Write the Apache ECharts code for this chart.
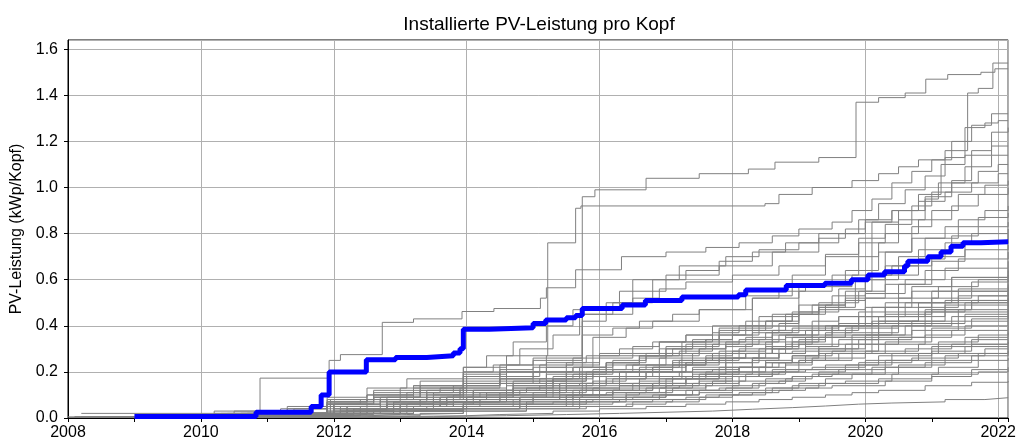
<!DOCTYPE html>
<html>
<head>
<meta charset="utf-8">
<script src="https://cdn.jsdelivr.net/npm/echarts@6/dist/echarts.min.js"></script>
<style>
  html, body { margin: 0; padding: 0; background: #fff; }
  #chart { width: 1019px; height: 444px; }
</style>
</head>
<body>
<div id="chart"></div>
<script>
// x ticks (years) and y ticks
const yearTicks = [2008, 2010, 2012, 2014, 2016, 2018, 2020, 2022]
const valueTicks = [0.0, 0.2, 0.4, 0.6, 0.8, 1.0, 1.2, 1.4, 1.6]

// highlighted line [year, kWp per head]
const blueLine = [
  [2009.0,0.007],[2010.83,0.025],[2011.66,0.05],[2011.81,0.1],[2011.93,0.2],[2012.49,0.253],
  [2012.93,0.262],[2013.4,0.27],[2013.8,0.282],[2013.9,0.3],[2013.95,0.385],[2014.34,0.392],
  [2015.0,0.41],[2015.19,0.425],[2015.5,0.435],[2015.64,0.445],[2015.74,0.475],[2016.34,0.49],
  [2016.69,0.51],[2017.24,0.525],[2018.09,0.535],[2018.2,0.555],[2018.81,0.575],[2019.39,0.585],
  [2019.79,0.6],[2020.04,0.62],[2020.29,0.635],[2020.59,0.66],[2020.64,0.68],[2020.94,0.7],
  [2021.14,0.72],[2021.29,0.745],[2021.47,0.76],[2021.74,0.765],[2022.15,0.765]
]

// other municipalities, upper group
const highLines = [
  [[2008.6,0.004],[2010.2,0.015],[2011.9,0.04],[2013.95,0.07],[2015.0,0.09],[2015.74,0.96],[2015.93,0.99],[2016.7,1.04],[2017.5,1.06],[2018.24,1.08],[2018.64,1.11],[2019.3,1.13],[2019.86,1.37],[2020.2,1.39],[2020.6,1.41],[2020.91,1.47],[2021.24,1.49],[2021.74,1.5],[2021.95,1.515],[2022.15,1.515]],
  [[2008.3,0.003],[2010.5,0.02],[2011.95,0.07],[2013.0,0.13],[2013.95,0.22],[2014.6,0.27],[2015.22,0.76],[2015.64,0.91],[2015.72,0.92],[2018.49,0.93],[2018.7,0.97],[2019.2,1.0],[2019.8,1.03],[2020.2,1.06],[2020.5,1.09],[2020.8,1.12],[2021.2,1.16],[2021.54,1.41],[2021.7,1.43],[2021.92,1.54],[2022.15,1.54]],
  [[2008.0,0.005],[2009.3,0.015],[2010.2,0.03],[2010.89,0.173],[2011.93,0.25],[2012.1,0.275],[2012.73,0.415],[2013.2,0.43],[2013.93,0.462],[2014.41,0.475],[2015.11,0.52],[2015.2,0.565],[2015.64,0.643],[2016.33,0.7],[2017.0,0.72],[2017.6,0.74],[2018.1,0.76],[2018.6,0.79],[2019.0,0.82],[2019.5,0.85],[2019.8,0.9],[2020.1,0.95],[2020.4,1.02],[2020.7,1.07],[2021.0,1.12],[2021.3,1.2],[2021.6,1.27],[2021.9,1.32],[2022.15,1.32]],
  [[2008.8,0.003],[2010.4,0.01],[2011.0,0.02],[2011.9,0.08],[2012.6,0.11],[2013.3,0.14],[2013.95,0.2],[2014.4,0.23],[2014.8,0.3],[2015.3,0.36],[2015.7,0.45],[2016.2,0.5],[2016.8,0.6],[2017.3,0.64],[2017.8,0.68],[2018.3,0.72],[2018.8,0.76],[2019.3,0.8],[2019.9,0.86],[2020.2,0.93],[2020.6,0.99],[2020.9,1.05],[2021.2,1.13],[2021.5,1.26],[2021.8,1.28],[2022.0,1.29],[2022.15,1.29]],
  [[2009.0,0.002],[2010.6,0.01],[2011.2,0.02],[2012.0,0.06],[2012.7,0.08],[2013.4,0.11],[2013.8,0.14],[2014.5,0.17],[2015.2,0.22],[2015.9,0.35],[2016.4,0.39],[2016.8,0.42],[2017.5,0.47],[2018.2,0.53],[2018.9,0.62],[2019.4,0.7],[2019.9,0.78],[2020.3,0.84],[2020.7,0.92],[2021.0,0.98],[2021.3,1.03],[2021.6,1.16],[2021.9,1.24],[2022.15,1.26]],
  [[2008.5,0.004],[2010.1,0.01],[2010.8,0.02],[2011.9,0.06],[2012.4,0.08],[2013.1,0.11],[2013.6,0.13],[2014.0,0.18],[2014.5,0.21],[2015.0,0.25],[2015.74,0.42],[2016.1,0.5],[2016.5,0.6],[2017.2,0.66],[2017.9,0.7],[2018.4,0.73],[2019.0,0.76],[2019.6,0.8],[2020.0,0.85],[2020.4,0.9],[2020.8,0.97],[2021.14,1.1],[2021.5,1.14],[2021.9,1.18],[2022.15,1.18]],
  [[2009.5,0.003],[2010.8,0.01],[2011.5,0.02],[2012.2,0.05],[2012.9,0.07],[2013.5,0.08],[2014.1,0.1],[2014.7,0.13],[2015.3,0.17],[2015.8,0.2],[2016.2,0.24],[2016.6,0.27],[2017.0,0.31],[2017.4,0.34],[2017.8,0.38],[2018.4,0.44],[2019.0,0.55],[2019.5,0.62],[2019.9,0.7],[2020.2,0.76],[2020.5,0.86],[2020.9,0.95],[2021.1,1.02],[2021.5,1.09],[2021.9,1.14],[2022.15,1.14]],
  [[2008.9,0.002],[2010.5,0.01],[2011.4,0.015],[2012.1,0.04],[2012.8,0.06],[2013.3,0.08],[2013.9,0.12],[2014.6,0.15],[2015.5,0.2],[2016.1,0.23],[2016.6,0.27],[2017.1,0.3],[2017.6,0.34],[2018.0,0.38],[2018.5,0.42],[2018.9,0.46],[2019.3,0.5],[2019.9,0.55],[2020.1,0.85],[2020.5,0.9],[2020.9,0.96],[2021.3,1.02],[2021.7,1.07],[2022.0,1.1],[2022.15,1.1]],
  [[2008.2,0.02],[2010.5,0.03],[2011.3,0.05],[2011.9,0.09],[2012.5,0.13],[2013.1,0.17],[2013.95,0.22],[2014.3,0.27],[2014.7,0.33],[2015.2,0.4],[2015.6,0.47],[2016.3,0.55],[2017.0,0.62],[2017.8,0.66],[2018.6,0.72],[2019.3,0.78],[2019.7,0.82],[2020.0,0.86],[2020.4,0.9],[2020.8,0.94],[2021.2,0.98],[2021.6,1.02],[2022.0,1.06],[2022.15,1.06]],
  [[2009.2,0.003],[2010.7,0.01],[2011.6,0.02],[2012.4,0.05],[2013.0,0.06],[2013.7,0.09],[2014.3,0.11],[2014.9,0.13],[2015.4,0.15],[2015.9,0.18],[2016.4,0.2],[2016.9,0.23],[2017.4,0.26],[2017.8,0.29],[2018.2,0.32],[2018.6,0.38],[2019.0,0.46],[2019.6,0.56],[2020.0,0.62],[2020.3,0.72],[2020.7,0.83],[2021.0,0.9],[2021.4,0.97],[2021.8,1.01],[2022.15,1.03]],
  [[2008.7,0.003],[2010.2,0.01],[2010.9,0.02],[2011.9,0.07],[2012.5,0.1],[2013.2,0.14],[2013.95,0.19],[2014.6,0.23],[2015.2,0.27],[2015.74,0.45],[2016.5,0.52],[2016.9,0.56],[2017.3,0.59],[2018.0,0.62],[2018.7,0.66],[2019.4,0.71],[2019.9,0.76],[2020.3,0.8],[2020.8,0.86],[2021.3,0.92],[2021.7,0.97],[2022.15,1.0]],
  [[2009.4,0.002],[2010.9,0.01],[2011.7,0.02],[2012.5,0.05],[2013.3,0.08],[2013.95,0.12],[2014.7,0.16],[2015.5,0.2],[2016.1,0.24],[2016.7,0.28],[2017.3,0.32],[2017.8,0.36],[2018.3,0.4],[2018.8,0.45],[2019.2,0.49],[2019.5,0.53],[2020.0,0.6],[2020.5,0.7],[2020.9,0.78],[2021.4,0.86],[2021.8,0.9],[2022.15,0.92]],
  [[2008.4,0.004],[2009.9,0.01],[2010.6,0.02],[2011.9,0.06],[2012.7,0.09],[2013.4,0.12],[2013.95,0.15],[2014.5,0.17],[2015.0,0.2],[2015.5,0.23],[2016.0,0.27],[2016.9,0.33],[2017.3,0.36],[2017.7,0.4],[2018.3,0.52],[2019.0,0.58],[2019.7,0.64],[2020.2,0.72],[2020.7,0.78],[2021.2,0.83],[2021.7,0.87],[2022.15,0.89]],
  [[2009.8,0.002],[2011.1,0.01],[2011.9,0.03],[2012.8,0.05],[2013.6,0.07],[2014.2,0.08],[2015.0,0.11],[2015.5,0.14],[2016.1,0.17],[2016.7,0.2],[2017.3,0.24],[2017.9,0.28],[2018.6,0.36],[2019.3,0.48],[2019.85,0.6],[2020.3,0.66],[2020.8,0.73],[2021.3,0.79],[2021.7,0.83],[2022.15,0.85]],
  [[2008.6,0.003],[2010.1,0.01],[2011.0,0.02],[2012.0,0.06],[2012.6,0.09],[2013.3,0.12],[2013.95,0.16],[2014.6,0.2],[2015.2,0.24],[2015.8,0.27],[2016.3,0.3],[2016.8,0.33],[2017.3,0.36],[2017.8,0.39],[2018.2,0.42],[2018.6,0.45],[2019.0,0.49],[2019.7,0.55],[2020.3,0.62],[2020.8,0.69],[2021.2,0.76],[2021.6,0.8],[2022.15,0.82]],
  [[2010.0,0.002],[2011.2,0.01],[2012.0,0.03],[2012.9,0.05],[2013.7,0.07],[2014.5,0.09],[2015.2,0.1],[2015.7,0.12],[2016.3,0.15],[2016.9,0.18],[2017.4,0.21],[2017.9,0.24],[2018.4,0.28],[2018.8,0.32],[2019.2,0.36],[2019.5,0.4],[2020.0,0.48],[2020.5,0.58],[2021.0,0.68],[2021.5,0.76],[2022.15,0.8]]
]

// middle group
const midLines = [
  [[2008.9,0.003],[2010.4,0.01],[2011.2,0.02],[2011.95,0.08],[2012.6,0.12],[2013.3,0.16],[2013.95,0.2],[2014.5,0.23],[2015.0,0.26],[2015.74,0.36],[2016.2,0.39],[2016.6,0.42],[2017.1,0.45],[2017.5,0.47],[2018.3,0.52],[2018.7,0.55],[2019.1,0.57],[2019.8,0.62],[2020.4,0.66],[2021.0,0.7],[2021.5,0.73],[2022.15,0.75]],
  [[2009.1,0.002],[2010.6,0.01],[2011.5,0.02],[2012.2,0.05],[2012.9,0.07],[2013.6,0.09],[2014.1,0.11],[2014.7,0.14],[2015.3,0.17],[2015.9,0.2],[2016.5,0.23],[2017.0,0.27],[2017.5,0.3],[2017.9,0.33],[2018.3,0.37],[2018.7,0.41],[2019.0,0.45],[2019.4,0.49],[2019.7,0.52],[2020.3,0.58],[2020.9,0.64],[2021.4,0.69],[2022.15,0.72]],
  [[2008.3,0.004],[2009.9,0.01],[2010.7,0.02],[2011.9,0.05],[2012.5,0.08],[2013.2,0.1],[2013.9,0.13],[2014.6,0.16],[2015.2,0.19],[2015.7,0.22],[2016.1,0.24],[2016.6,0.27],[2017.0,0.3],[2017.4,0.33],[2017.8,0.36],[2018.2,0.39],[2018.6,0.42],[2019.0,0.45],[2019.3,0.48],[2019.7,0.51],[2020.0,0.54],[2020.6,0.6],[2021.2,0.65],[2022.15,0.68]],
  [[2009.6,0.002],[2010.9,0.01],[2011.8,0.02],[2012.7,0.04],[2013.95,0.06],[2014.8,0.08],[2015.6,0.1],[2016.2,0.12],[2016.8,0.15],[2017.3,0.18],[2017.8,0.22],[2018.3,0.26],[2018.7,0.3],[2019.1,0.35],[2019.5,0.4],[2020.1,0.48],[2020.7,0.55],[2021.3,0.61],[2022.15,0.65]],
  [[2008.1,0.005],[2009.6,0.01],[2010.3,0.02],[2011.3,0.04],[2011.9,0.07],[2012.6,0.1],[2013.2,0.13],[2013.95,0.17],[2014.5,0.2],[2015.1,0.23],[2015.6,0.26],[2016.0,0.28],[2016.5,0.31],[2016.9,0.33],[2017.7,0.37],[2018.1,0.4],[2018.5,0.42],[2018.9,0.45],[2019.3,0.47],[2020.0,0.52],[2020.7,0.57],[2021.3,0.61],[2022.15,0.64]],
  [[2009.3,0.002],[2010.8,0.01],[2011.6,0.015],[2012.6,0.04],[2013.5,0.07],[2014.0,0.09],[2014.7,0.12],[2015.4,0.15],[2016.0,0.18],[2016.6,0.21],[2017.1,0.24],[2017.6,0.26],[2018.4,0.3],[2018.8,0.35],[2019.2,0.4],[2019.9,0.46],[2020.5,0.52],[2021.1,0.57],[2021.7,0.6],[2022.15,0.62]],
  [[2008.8,0.003],[2010.3,0.01],[2011.1,0.02],[2011.95,0.06],[2012.8,0.09],[2013.5,0.11],[2014.0,0.14],[2014.5,0.17],[2015.0,0.2],[2015.6,0.22],[2016.2,0.25],[2016.7,0.27],[2017.2,0.29],[2017.7,0.32],[2018.1,0.34],[2018.5,0.37],[2018.9,0.39],[2019.6,0.44],[2020.3,0.5],[2021.0,0.55],[2021.6,0.59],[2022.15,0.61]],
  [[2010.2,0.002],[2011.3,0.01],[2012.1,0.02],[2013.0,0.035],[2013.95,0.05],[2014.9,0.07],[2015.7,0.09],[2016.4,0.11],[2017.0,0.14],[2017.5,0.17],[2018.0,0.2],[2018.5,0.24],[2018.9,0.27],[2019.3,0.31],[2019.6,0.34],[2020.2,0.42],[2020.8,0.5],[2021.4,0.56],[2022.15,0.6]],
  [[2008.5,0.004],[2010.0,0.01],[2010.9,0.02],[2012.0,0.05],[2012.8,0.07],[2013.5,0.09],[2014.1,0.12],[2014.7,0.15],[2015.3,0.18],[2015.9,0.21],[2016.4,0.23],[2016.9,0.26],[2017.4,0.28],[2017.9,0.31],[2018.3,0.33],[2018.7,0.36],[2019.1,0.38],[2019.9,0.44],[2020.6,0.5],[2021.3,0.55],[2022.15,0.58]],
  [[2009.0,0.003],[2010.6,0.01],[2011.4,0.02],[2012.3,0.04],[2013.1,0.06],[2013.8,0.1],[2014.6,0.12],[2015.5,0.15],[2016.1,0.18],[2016.7,0.2],[2017.1,0.23],[2017.6,0.25],[2018.1,0.28],[2018.5,0.3],[2018.9,0.33],[2019.4,0.36],[2020.1,0.42],[2020.8,0.48],[2021.4,0.53],[2022.15,0.57]],
  [[2008.7,0.003],[2010.2,0.01],[2011.3,0.015],[2012.2,0.04],[2013.0,0.06],[2013.7,0.09],[2014.5,0.11],[2015.4,0.13],[2016.0,0.15],[2016.6,0.17],[2017.24,0.33],[2017.6,0.34],[2018.0,0.36],[2018.4,0.38],[2018.8,0.4],[2019.2,0.42],[2019.6,0.44],[2020.3,0.48],[2021.0,0.52],[2021.6,0.55],[2022.15,0.56]],
  [[2009.7,0.002],[2011.0,0.01],[2011.9,0.03],[2012.7,0.05],[2013.5,0.07],[2014.0,0.08],[2014.6,0.1],[2015.2,0.13],[2015.8,0.15],[2016.3,0.18],[2016.8,0.2],[2017.3,0.23],[2017.8,0.26],[2018.2,0.28],[2018.6,0.31],[2019.0,0.34],[2019.4,0.37],[2019.8,0.4],[2020.5,0.46],[2021.2,0.51],[2022.15,0.55]],
  [[2008.4,0.004],[2009.9,0.01],[2010.8,0.02],[2011.9,0.06],[2012.6,0.09],[2013.3,0.12],[2013.95,0.15],[2014.5,0.18],[2015.1,0.2],[2015.6,0.22],[2016.1,0.24],[2016.6,0.26],[2017.0,0.28],[2017.5,0.3],[2017.9,0.32],[2018.4,0.34],[2018.8,0.36],[2019.2,0.38],[2019.6,0.41],[2020.3,0.45],[2021.0,0.5],[2021.7,0.53],[2022.15,0.54]],
  [[2010.5,0.002],[2011.6,0.01],[2012.3,0.02],[2013.2,0.03],[2013.95,0.04],[2014.9,0.06],[2015.8,0.08],[2016.4,0.1],[2017.0,0.12],[2017.6,0.15],[2018.1,0.18],[2018.6,0.21],[2019.0,0.25],[2019.4,0.28],[2019.8,0.32],[2020.1,0.36],[2020.4,0.4],[2021.0,0.47],[2021.6,0.51],[2022.15,0.53]],
  [[2008.9,0.003],[2010.4,0.01],[2011.2,0.02],[2012.1,0.05],[2012.9,0.07],[2013.6,0.09],[2014.2,0.11],[2014.7,0.13],[2015.2,0.16],[2015.8,0.18],[2016.3,0.2],[2016.8,0.22],[2017.2,0.25],[2017.7,0.28],[2018.1,0.3],[2018.5,0.33],[2018.9,0.35],[2019.7,0.39],[2020.5,0.44],[2021.2,0.49],[2022.15,0.52]],
  [[2009.2,0.003],[2010.9,0.01],[2011.7,0.02],[2012.4,0.04],[2013.2,0.05],[2013.95,0.07],[2014.8,0.09],[2015.6,0.12],[2016.3,0.14],[2016.9,0.17],[2017.4,0.19],[2017.9,0.22],[2018.3,0.25],[2018.7,0.28],[2019.1,0.31],[2019.5,0.35],[2020.2,0.41],[2020.9,0.46],[2021.5,0.5],[2022.15,0.52]],
  [[2008.2,0.005],[2009.7,0.01],[2010.4,0.02],[2011.4,0.04],[2011.9,0.07],[2012.5,0.1],[2013.2,0.14],[2013.95,0.18],[2014.5,0.2],[2015.0,0.22],[2015.5,0.24],[2016.0,0.26],[2016.5,0.28],[2016.9,0.3],[2017.4,0.31],[2017.8,0.33],[2018.2,0.35],[2018.6,0.37],[2019.0,0.38],[2019.4,0.4],[2020.2,0.44],[2020.9,0.47],[2021.6,0.5],[2022.15,0.51]],
  [[2009.9,0.002],[2011.1,0.01],[2012.0,0.02],[2012.9,0.04],[2013.95,0.06],[2014.7,0.08],[2015.4,0.1],[2016.0,0.12],[2016.6,0.14],[2017.1,0.17],[2017.6,0.19],[2018.1,0.22],[2018.5,0.25],[2018.9,0.27],[2019.3,0.3],[2020.0,0.36],[2020.7,0.42],[2021.4,0.47],[2022.15,0.5]],
  [[2008.6,0.003],[2010.1,0.01],[2011.0,0.02],[2012.0,0.05],[2012.8,0.08],[2013.5,0.1],[2013.95,0.13],[2014.5,0.15],[2015.1,0.17],[2015.7,0.19],[2016.2,0.21],[2016.7,0.23],[2017.1,0.25],[2017.6,0.27],[2018.0,0.29],[2018.5,0.31],[2018.9,0.33],[2019.3,0.35],[2019.7,0.37],[2020.5,0.42],[2021.2,0.46],[2022.15,0.49]],
  [[2009.5,0.002],[2010.9,0.01],[2011.8,0.02],[2012.6,0.03],[2013.4,0.05],[2014.2,0.06],[2015.0,0.08],[2015.5,0.1],[2016.2,0.12],[2016.8,0.14],[2017.3,0.17],[2017.8,0.19],[2018.3,0.22],[2018.7,0.24],[2019.1,0.27],[2019.5,0.29],[2020.2,0.35],[2020.9,0.41],[2021.5,0.45],[2022.15,0.47]]
]

// lower group
const lowLines = [
  [[2008.3,0.004],[2009.8,0.01],[2010.6,0.02],[2011.9,0.05],[2012.7,0.08],[2013.4,0.1],[2014.1,0.12],[2014.6,0.14],[2015.2,0.16],[2015.8,0.18],[2016.3,0.2],[2016.8,0.22],[2017.3,0.24],[2017.8,0.26],[2018.2,0.28],[2018.6,0.3],[2019.0,0.32],[2019.8,0.36],[2020.6,0.4],[2021.3,0.44],[2022.15,0.46]],
  [[2010.1,0.002],[2011.3,0.01],[2012.2,0.02],[2013.1,0.035],[2013.95,0.05],[2014.8,0.07],[2015.6,0.09],[2016.2,0.11],[2016.9,0.13],[2017.4,0.15],[2017.9,0.18],[2018.4,0.2],[2018.8,0.23],[2019.2,0.25],[2019.6,0.28],[2020.3,0.33],[2021.0,0.39],[2021.6,0.43],[2022.15,0.45]],
  [[2008.8,0.003],[2010.3,0.01],[2011.1,0.02],[2012.1,0.04],[2012.9,0.06],[2013.7,0.08],[2014.3,0.1],[2014.8,0.12],[2015.3,0.14],[2015.9,0.16],[2016.4,0.18],[2016.9,0.2],[2017.4,0.22],[2017.9,0.24],[2018.3,0.26],[2018.7,0.28],[2019.1,0.3],[2019.9,0.34],[2020.7,0.38],[2021.4,0.42],[2022.15,0.44]],
  [[2009.3,0.003],[2010.7,0.01],[2011.5,0.015],[2012.3,0.04],[2013.0,0.05],[2013.8,0.07],[2014.5,0.09],[2015.4,0.12],[2016.0,0.14],[2016.6,0.16],[2017.1,0.18],[2017.6,0.2],[2018.1,0.22],[2018.5,0.24],[2018.9,0.26],[2019.3,0.28],[2020.1,0.32],[2020.9,0.36],[2021.5,0.4],[2022.15,0.42]],
  [[2008.1,0.005],[2009.5,0.01],[2010.2,0.02],[2011.2,0.04],[2011.9,0.06],[2012.6,0.09],[2013.3,0.11],[2013.95,0.14],[2014.5,0.15],[2015.0,0.17],[2015.6,0.19],[2016.1,0.2],[2016.6,0.22],[2017.1,0.23],[2017.6,0.25],[2018.0,0.26],[2018.5,0.28],[2018.9,0.29],[2019.7,0.32],[2020.5,0.35],[2021.3,0.38],[2022.15,0.4]],
  [[2010.3,0.002],[2011.5,0.01],[2012.4,0.02],[2013.2,0.03],[2013.95,0.04],[2014.9,0.05],[2015.7,0.07],[2016.4,0.09],[2017.0,0.1],[2017.5,0.12],[2018.0,0.14],[2018.5,0.16],[2018.9,0.18],[2019.3,0.2],[2019.7,0.23],[2020.4,0.28],[2021.1,0.33],[2021.7,0.36],[2022.15,0.38]],
  [[2008.7,0.003],[2010.2,0.01],[2011.0,0.02],[2012.0,0.04],[2012.8,0.06],[2013.5,0.07],[2014.1,0.09],[2014.7,0.1],[2015.3,0.12],[2015.9,0.13],[2016.5,0.15],[2017.0,0.17],[2017.5,0.19],[2017.9,0.2],[2018.4,0.22],[2018.8,0.24],[2019.2,0.26],[2020.0,0.29],[2020.8,0.32],[2021.5,0.35],[2022.15,0.37]],
  [[2009.1,0.003],[2010.5,0.01],[2011.3,0.015],[2012.2,0.03],[2013.0,0.05],[2013.8,0.07],[2014.6,0.08],[2015.5,0.1],[2016.1,0.11],[2016.7,0.13],[2017.2,0.14],[2017.7,0.16],[2018.2,0.18],[2018.6,0.2],[2019.0,0.21],[2019.4,0.23],[2020.2,0.27],[2021.0,0.31],[2021.6,0.34],[2022.15,0.35]],
  [[2008.5,0.004],[2009.9,0.01],[2010.7,0.02],[2011.9,0.05],[2012.7,0.07],[2013.4,0.09],[2013.95,0.11],[2014.6,0.12],[2015.1,0.14],[2015.7,0.15],[2016.2,0.17],[2016.7,0.18],[2017.2,0.2],[2017.7,0.21],[2018.1,0.22],[2018.6,0.24],[2019.0,0.25],[2019.8,0.28],[2020.6,0.3],[2021.3,0.32],[2022.15,0.34]],
  [[2009.8,0.002],[2011.0,0.01],[2012.0,0.015],[2013.0,0.03],[2013.95,0.04],[2014.8,0.05],[2015.6,0.07],[2016.3,0.08],[2016.9,0.1],[2017.4,0.12],[2017.9,0.13],[2018.4,0.15],[2018.8,0.17],[2019.2,0.19],[2019.6,0.21],[2020.3,0.25],[2021.0,0.29],[2021.6,0.32],[2022.15,0.33]],
  [[2008.9,0.003],[2010.4,0.01],[2011.2,0.015],[2012.1,0.03],[2012.9,0.05],[2013.6,0.06],[2014.2,0.08],[2014.8,0.09],[2015.3,0.1],[2015.9,0.12],[2016.5,0.13],[2017.0,0.15],[2017.5,0.16],[2018.0,0.18],[2018.4,0.19],[2018.8,0.21],[2019.2,0.22],[2020.0,0.25],[2020.8,0.28],[2021.5,0.31],[2022.15,0.32]],
  [[2010.0,0.002],[2011.2,0.008],[2012.3,0.015],[2013.1,0.02],[2013.95,0.03],[2014.9,0.04],[2015.8,0.05],[2016.5,0.07],[2017.1,0.08],[2017.6,0.1],[2018.1,0.11],[2018.6,0.13],[2019.0,0.15],[2019.4,0.17],[2019.8,0.19],[2020.5,0.23],[2021.2,0.27],[2021.8,0.3],[2022.15,0.31]],
  [[2008.4,0.004],[2009.9,0.01],[2010.9,0.015],[2012.0,0.04],[2012.8,0.06],[2013.5,0.07],[2014.0,0.09],[2014.6,0.1],[2015.2,0.11],[2015.8,0.13],[2016.3,0.14],[2016.8,0.15],[2017.3,0.17],[2017.8,0.18],[2018.2,0.19],[2018.7,0.2],[2019.1,0.21],[2019.9,0.24],[2020.7,0.26],[2021.4,0.28],[2022.15,0.3]],
  [[2009.4,0.002],[2010.8,0.008],[2011.6,0.015],[2012.5,0.03],[2013.3,0.04],[2014.0,0.05],[2014.8,0.06],[2015.5,0.08],[2016.2,0.09],[2016.8,0.1],[2017.3,0.12],[2017.8,0.13],[2018.3,0.15],[2018.7,0.16],[2019.1,0.18],[2019.5,0.19],[2020.3,0.22],[2021.0,0.25],[2021.7,0.28],[2022.15,0.29]],
  [[2008.6,0.003],[2010.0,0.008],[2011.0,0.015],[2012.1,0.03],[2012.9,0.05],[2013.6,0.06],[2014.1,0.07],[2014.8,0.08],[2015.4,0.09],[2016.0,0.1],[2016.6,0.11],[2017.1,0.13],[2017.6,0.14],[2018.1,0.16],[2018.5,0.17],[2018.9,0.18],[2019.3,0.19],[2020.1,0.22],[2020.9,0.24],[2021.6,0.27],[2022.15,0.28]],
  [[2010.4,0.002],[2011.7,0.006],[2012.5,0.01],[2013.3,0.02],[2013.95,0.03],[2014.9,0.04],[2015.7,0.05],[2016.4,0.06],[2017.0,0.07],[2017.5,0.09],[2018.0,0.1],[2018.5,0.12],[2018.9,0.13],[2019.3,0.15],[2019.7,0.16],[2020.4,0.19],[2021.1,0.22],[2021.7,0.25],[2022.15,0.26]],
  [[2009.0,0.003],[2010.5,0.006],[2011.4,0.01],[2012.4,0.02],[2013.2,0.03],[2013.95,0.04],[2014.8,0.05],[2015.5,0.06],[2016.2,0.07],[2016.8,0.08],[2017.3,0.09],[2017.8,0.1],[2018.3,0.11],[2018.7,0.12],[2019.1,0.13],[2019.5,0.14],[2020.3,0.16],[2021.0,0.18],[2021.6,0.21],[2022.15,0.22]],
  [[2008.2,0.004],[2009.8,0.007],[2010.8,0.01],[2012.0,0.02],[2012.9,0.03],[2013.95,0.05],[2014.7,0.06],[2015.3,0.07],[2015.9,0.08],[2016.5,0.09],[2017.0,0.1],[2017.5,0.11],[2018.0,0.12],[2018.5,0.13],[2018.9,0.14],[2019.4,0.15],[2020.2,0.17],[2021.0,0.19],[2021.7,0.2],[2022.15,0.21]],
  [[2010.6,0.002],[2012.0,0.006],[2013.0,0.01],[2014.0,0.015],[2014.5,0.02],[2015.3,0.03],[2016.0,0.04],[2016.7,0.05],[2017.3,0.06],[2017.9,0.07],[2018.4,0.08],[2018.9,0.09],[2019.4,0.1],[2019.8,0.11],[2020.2,0.12],[2020.9,0.14],[2021.6,0.155],[2022.15,0.16]],
  [[2011.0,0.002],[2012.4,0.006],[2013.5,0.01],[2014.6,0.015],[2015.5,0.02],[2016.3,0.025],[2017.0,0.03],[2017.7,0.038],[2018.3,0.045],[2018.9,0.052],[2019.4,0.06],[2019.9,0.065],[2020.4,0.07],[2021.2,0.08],[2021.8,0.088],[2022.15,0.09]]
]

const chart = echarts.init(document.getElementById('chart'))
const font = '"Liberation Sans", Arial, sans-serif'

let series = []
highLines.concat(midLines, lowLines).forEach((d) => {
  series.push({
    type: 'line',
    step: 'end',
    data: d,
    symbol: 'none',
    silent: true,
    lineStyle: { color: '#808080', width: 1 }
  })
})
series.push({
  type: 'line',
  step: 'end',
  data: blueLine,
  symbol: 'none',
  silent: true,
  z: 5,
  lineStyle: { color: '#0000ff', width: 5 }
})

chart.setOption({
  animation: false,
  backgroundColor: '#fff',
  graphic: [{
    type: 'text',
    x: 539,
    y: 25,
    style: {
      text: 'Installierte PV-Leistung pro Kopf',
      font: '19px ' + font,
      fill: '#000',
      textAlign: 'center',
      textVerticalAlign: 'middle'
    }
  }],
  grid: {
    left: 68, right: 9, top: 40, bottom: 26,
    show: true, borderColor: '#000', borderWidth: 1
  },
  xAxis: [{
    type: 'value',
    min: yearTicks[0],
    max: 2022.15,
    interval: 2,
    axisLine: { lineStyle: { color: '#000' } },
    axisTick: { length: 4, lineStyle: { color: '#000' } },
    axisLabel: {
      color: '#000', fontSize: 16, fontFamily: font, margin: 7,
      showMaxLabel: false,
      formatter: (v) => yearTicks.indexOf(v) >= 0 ? String(v) : ''
    },
    splitLine: { show: true, lineStyle: { color: '#b0b0b0', width: 1 } }
  }, {
    type: 'value',
    position: 'bottom',
    min: yearTicks[0],
    max: 2022.15,
    interval: 1,
    axisLine: { show: false },
    axisTick: { length: 4, lineStyle: { color: '#000' } },
    axisLabel: { show: false },
    splitLine: { show: false }
  }],
  yAxis: {
    type: 'value',
    min: 0,
    max: 1.64,
    interval: 0.2,
    name: 'PV-Leistung (kWp/Kopf)',
    nameLocation: 'middle',
    nameGap: 40,
    nameTextStyle: { color: '#000', fontSize: 16, fontFamily: font },
    axisLine: { lineStyle: { color: '#000' } },
    axisTick: { length: 4, lineStyle: { color: '#000' } },
    axisLabel: {
      color: '#000', fontSize: 16, fontFamily: font, margin: 10,
      showMaxLabel: false,
      formatter: (v) => valueTicks.some((t) => Math.abs(t - v) < 1e-6) ? v.toFixed(1) : ''
    },
    splitLine: { show: true, lineStyle: { color: '#b0b0b0', width: 1 } }
  },
  series: series
})
</script>
</body>
</html>
